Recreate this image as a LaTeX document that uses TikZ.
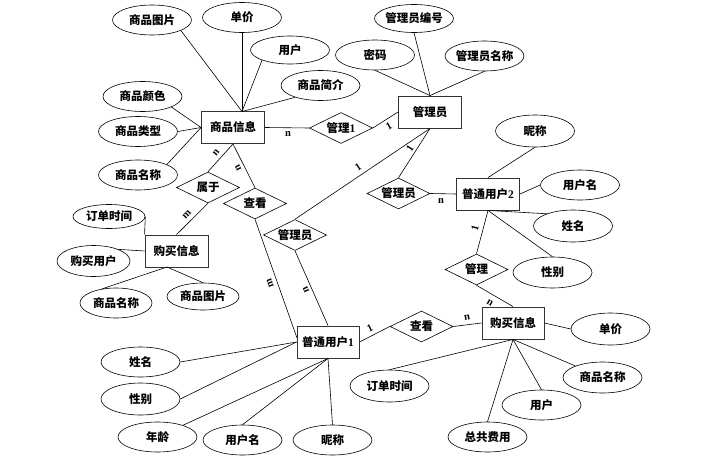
\documentclass[tikz,border=0pt]{standalone}
\usepackage{fontspec}
\setmainfont{Liberation Serif}
\newfontfamily\cjk{Noto Sans CJK SC}
\usetikzlibrary{shapes.geometric}
\tikzset{
  txt/.style={font=\cjk\bfseries\fontsize{11.5}{12}\selectfont},
  ent/.style={txt, draw=black!80, line width=0.9pt, fill=white, minimum width=63pt, minimum height=32pt, inner sep=0pt},
  attr/.style={txt, draw, ellipse, line width=0.6pt, fill=white, minimum width=79pt, minimum height=30pt, inner sep=0pt, inner xsep=-6pt},
  rel/.style={txt, draw, diamond, aspect=2, line width=0.6pt, fill=white, minimum width=63pt, minimum height=31pt, inner sep=0pt},
  card/.style={font=\rmfamily\bfseries\fontsize{10.5}{10.5}\selectfont, inner sep=0pt},
  conn/.style={line width=0.6pt},
}
\begin{document}
\begin{tikzpicture}[x=1pt,y=-1pt]
\useasboundingbox (0,0) rectangle (703,460);
% entities
\node[ent] (sp) at (233,127.5) {商品信息};
\node[ent] (gly) at (430,112) {管理员};
\node[ent] (pt2) at (488,194) {普通用户{\rmfamily 2}};
\node[ent] (gm1) at (176.5,251) {购买信息};
\node[ent, minimum width=62pt] (pt1) at (328,342) {普通用户{\rmfamily 1}};
\node[ent, minimum width=62pt] (gm2) at (513,323) {购买信息};
% relationships
\node[rel] (d1) at (341,128) {管理{\rmfamily 1}};
\node[rel] (dsy) at (208,187.5) {属于};
\node[rel] (dck1) at (255,203.5) {查看};
\node[rel] (dmid) at (295,235) {管理员};
\node[rel] (dgly2) at (398.5,193.5) {管理员};
\node[rel] (dgl) at (476.5,269.5) {管理};
\node[rel] (dck2) at (421.5,326.5) {查看};
% attributes
\node[attr] (a_sptp) at (152,20) {商品图片};
\node[attr] (a_dj) at (242,17.5) {单价};
\node[attr, minimum height=28pt] (a_yh) at (290,50) {用户};
\node[attr] (a_spjj) at (320.5,85.5) {商品简介};
\node[attr] (a_spys) at (142.5,96.5) {商品颜色};
\node[attr] (a_splx) at (138,131.5) {商品类型};
\node[attr] (a_spmc) at (138,175) {商品名称};
\node[attr] (a_mm) at (375,55) {密码};
\node[attr, minimum height=28pt] (a_glybh) at (414,18.5) {管理员编号};
\node[attr] (a_glymc) at (484.5,56) {管理员名称};
\node[attr, minimum height=32pt] (a_nc2) at (535,131) {昵称};
\node[attr] (a_yhm2) at (580,185) {用户名};
\node[attr, minimum height=32pt] (a_xm2) at (573,226) {姓名};
\node[attr, minimum height=31pt] (a_xb2) at (552.5,272.5) {性别};
\node[attr, minimum width=72pt, minimum height=24pt] (a_ddsj1) at (109,216.5) {订单时间};
\node[attr, minimum width=73pt, minimum height=31pt] (a_gmyh) at (93.5,261) {购买用户};
\node[attr, minimum width=72pt] (a_spmc2) at (116,303) {商品名称};
\node[attr, minimum width=72pt, minimum height=27pt] (a_sptp2) at (203,296.5) {商品图片};
\node[attr] (a_xm1) at (140.5,362) {姓名};
\node[attr, minimum height=32pt] (a_xb1) at (140.5,399) {性别};
\node[attr] (a_nl) at (157.5,437) {年龄};
\node[attr] (a_yhm1) at (242.5,440) {用户名};
\node[attr] (a_nc1) at (332.5,440) {昵称};
\node[attr, minimum height=32pt] (a_ddsj2) at (389.5,386) {订单时间};
\node[attr] (a_zgfy) at (487.5,437) {总共费用};
\node[attr] (a_yh2) at (541.5,405) {用户};
\node[attr, minimum height=31pt] (a_spmc3) at (602.5,377.5) {商品名称};
\node[attr, minimum height=32pt] (a_dj2) at (610.5,329) {单价};
% helper coordinates on entity borders
\coordinate (spT) at (242,111.5);
\coordinate (gm1B) at (167,267);
\coordinate (pt1L) at (297,338);
% relationship connectors
\draw[conn] (sp.east) -- (d1.west);
\draw[conn] (d1.east) -- (gly.west);
\draw[conn] (gly.south) -- (dmid.north);
\draw[conn] (gly.south) -- (dgly2.north);
\draw[conn] (dgly2.east) -- (pt2.west);
\draw[conn] (sp.south) -- (dsy.north);
\draw[conn] (dsy.south) -- (gm1.north);
\draw[conn] (sp.south) -- (dck1.north);
\draw[conn] (dck1.south) -- (pt1L);
\draw[conn] (dmid.south) -- (pt1.north);
\draw[conn] (pt1.east) -- (dck2.west);
\draw[conn] (dck2.east) -- (gm2.west);
\draw[conn] (pt2.south) -- (dgl.north);
\draw[conn] (dgl.south) -- (gm2.north);
% attribute connectors
\draw[conn] (a_sptp.-20) -- (spT);
\draw[conn] (a_dj.south) -- (spT);
\draw[conn] (a_yh.200) -- (spT);
\draw[conn] (a_spjj.205) -- (spT);
\draw[conn] (a_spys.-20) -- (sp.west);
\draw[conn] (a_splx.east) -- (sp.west);
\draw[conn] (a_spmc.20) -- (sp.west);
\draw[conn] (a_mm.south) -- (gly.north);
\draw[conn] (a_glybh.south) -- (gly.north);
\draw[conn] (a_glymc.south) -- (gly.north);
\draw[conn] (a_nc2.south) -- (pt2.north);
\draw[conn] (a_yhm2.west) -- (pt2.east);
\draw[conn] (a_xm2.155) -- (pt2.south);
\draw[conn] (a_xb2.north) -- (pt2.south);
\draw[conn] (a_ddsj1.east) -- (gm1.north west);
\draw[conn] (a_gmyh.25) -- (gm1.west);
\draw[conn] (a_spmc2.135) -- (gm1B);
\draw[conn] (a_sptp2.north) -- (gm1B);
\draw[conn] (a_xm1.east) -- (pt1.west);
\draw[conn] (a_xb1.east) -- (pt1.west);
\draw[conn] (a_nl) -- (pt1.south);
\draw[conn] (a_yhm1.north) -- (pt1.south);
\draw[conn] (a_nc1.north) -- (pt1.south);
\draw[conn] (a_dj2.west) -- (gm2.east);
\draw[conn] (a_spmc3) -- (gm2.south);
\draw[conn] (a_yh2.north) -- (gm2.south);
\draw[conn] (a_zgfy.north) -- (gm2.south);
\draw[conn] (a_ddsj2.north) -- (gm2.south);
% cardinalities
\node[card] (c1) at (288,134) {n};
\node[card, rotate=30] (c2) at (389,126) {1};
\node[card, rotate=34] (c3) at (358,167) {1};
\node[card, rotate=57] (c4) at (410,148) {1};
\node[card] (c5) at (441,201) {n};
\node[card, rotate=50] (c6) at (216,153) {n};
\node[card, rotate=46] (c7) at (187,215) {m};
\node[card, rotate=116] (c8) at (238,168) {n};
\node[card, rotate=109] (c9) at (270,283) {m};
\node[card, rotate=114] (c10) at (306,290) {n};
\node[card, rotate=27] (c11) at (370,328) {1};
\node[card, rotate=10] (c12) at (467,318) {n};
\node[card, rotate=75] (c13) at (475,228) {1};
\node[card, rotate=-31] (c14) at (490,303) {n};
\end{tikzpicture}
\end{document}
